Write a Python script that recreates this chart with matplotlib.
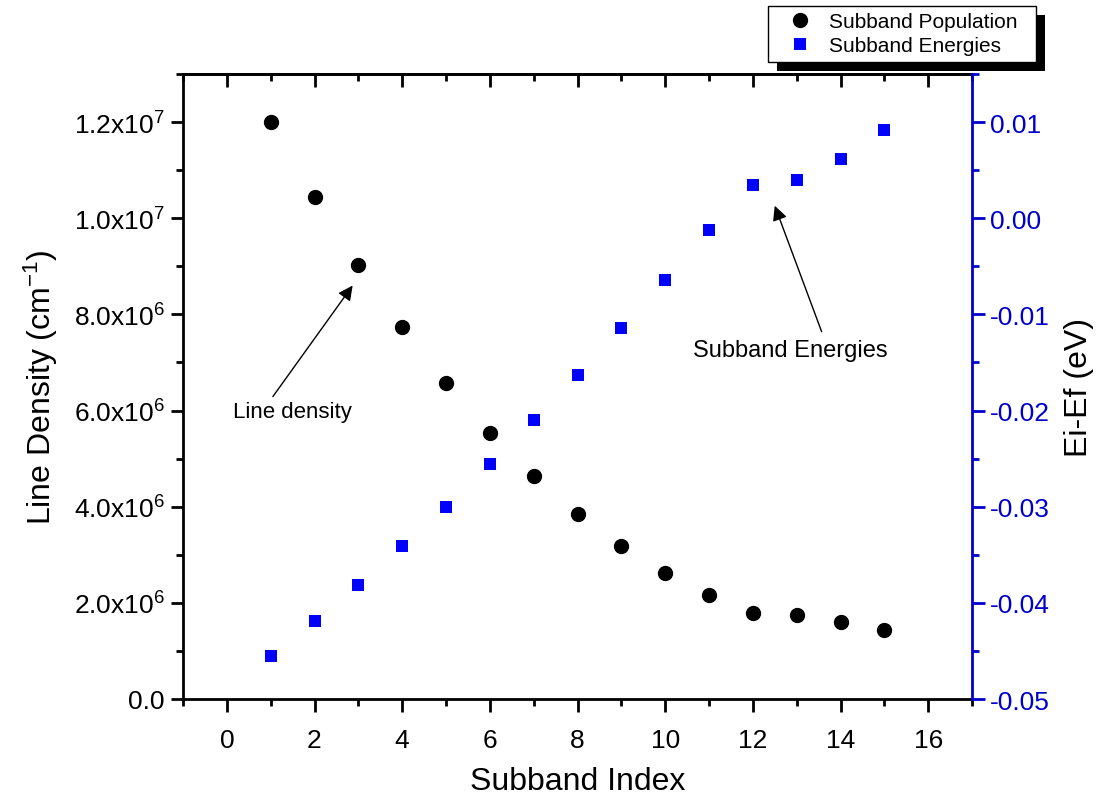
import numpy as np
import matplotlib
import matplotlib.pyplot as plt
from matplotlib.ticker import MultipleLocator, FuncFormatter
from matplotlib.patches import Rectangle

plt.rcParams['font.family'] = ['Liberation Sans', 'DejaVu Sans']
plt.rcParams['mathtext.fontset'] = 'custom'
plt.rcParams['mathtext.rm'] = 'Liberation Sans'
plt.rcParams['mathtext.default'] = 'regular'

# subband data
index = [1, 2, 3, 4, 5, 6, 7, 8, 9, 10, 11, 12, 13, 14, 15]
density = [12.0e6, 10.44e6, 9.03e6, 7.73e6, 6.57e6, 5.54e6, 4.64e6, 3.85e6,
           3.19e6, 2.63e6, 2.16e6, 1.78e6, 1.75e6, 1.61e6, 1.43e6]
energies = [-0.0455, -0.0419, -0.0381, -0.0341, -0.0300, -0.0256, -0.0210, -0.0163,
            -0.0114, -0.0064, -0.0012, 0.0035, 0.0040, 0.0062, 0.0092]

blue = '#0000cc'

fig = plt.figure(figsize=(11.04, 8.03), dpi=100)
ax = fig.add_axes([183/1104, 103/803, 789/1104, 625/803])
ax2 = ax.twinx()

l1, = ax.plot(index, density, 'o', color='black', ms=10, label='Subband Population')
l2, = ax2.plot(index, energies, 's', color='#0000ff', ms=8.6, mew=0, label='Subband Energies')

ax.set_xlim(-1, 17)
ax.set_ylim(0, 1.3e7)
ax2.set_ylim(-0.05, 0.015)

def sci_fmt(v, pos):
    if abs(v) < 1:
        return '0.0'
    if v < 0:
        return ''
    e = int(np.floor(np.log10(v) + 1e-9))
    return r'%.1fx10$^{%d}$' % (v / 10**e, e)

ax.xaxis.set_major_locator(MultipleLocator(2))
ax.xaxis.set_minor_locator(MultipleLocator(1))
ax.yaxis.set_major_locator(MultipleLocator(2e6))
ax.yaxis.set_minor_locator(MultipleLocator(1e6))
ax.yaxis.set_major_formatter(FuncFormatter(sci_fmt))
ax2.yaxis.set_major_locator(MultipleLocator(0.01))
ax2.yaxis.set_minor_locator(MultipleLocator(0.005))
ax2.yaxis.set_major_formatter(FuncFormatter(lambda v, p: '%.2f' % v if abs(v) > 1e-9 else '0.00'))

ax.tick_params(axis='x', which='both', bottom=True, top=False, labelsize=19, width=2)
ax.tick_params(axis='x', which='major', direction='out', length=9, pad=12)
ax.tick_params(axis='x', which='minor', direction='out', length=5)
ax.tick_params(axis='y', which='both', left=True, right=False, labelsize=19, width=2)
ax.tick_params(axis='y', which='major', direction='out', length=9, pad=4)
ax.tick_params(axis='y', which='minor', direction='out', length=5)

# top axis ticks point inward
sec = ax.secondary_xaxis('top')
sec.xaxis.set_major_locator(MultipleLocator(2))
sec.xaxis.set_minor_locator(MultipleLocator(1))
sec.tick_params(which='major', direction='in', length=9, width=2, labeltop=False)
sec.tick_params(which='minor', direction='in', length=5, width=2)
sec.spines['top'].set_linewidth(2)

ax2.tick_params(axis='y', which='both', colors=blue, labelsize=19, width=2)
ax2.tick_params(axis='y', which='major', length=9, pad=4)
ax2.tick_params(axis='y', which='minor', length=5)

for s in ['left', 'bottom', 'top']:
    ax.spines[s].set_linewidth(2)
ax.spines['right'].set_visible(False)
ax2.spines['right'].set_color(blue)
ax2.spines['right'].set_linewidth(2)
for s in ['left', 'bottom', 'top']:
    ax2.spines[s].set_visible(False)

ax.set_xlabel('Subband Index', fontsize=23, labelpad=10)
ax.set_ylabel('Line Density (cm$^{-1}$)', fontsize=23, labelpad=10)
ax2.set_ylabel('Ei-Ef (eV)', fontsize=23, labelpad=10)

arrow = dict(arrowstyle='-|>', color='black', lw=1, mutation_scale=22, shrinkA=0, shrinkB=0)
ax.annotate('', xy=(2.87, 8.6e6), xytext=(1.05, 6.29e6), arrowprops=arrow)
ax.text(0.14, 5.98e6, 'Line density', fontsize=16, ha='left', va='center')
ax2.annotate('', xy=(12.5, 0.0013), xytext=(13.57, -0.0118), arrowprops=arrow)
ax2.text(12.86, -0.0137, 'Subband Energies', fontsize=17, ha='center', va='center')

leg = fig.legend([l1, l2], ['Subband Population  ', 'Subband Energies  '],
                 loc='upper left', bbox_to_anchor=(768/1104, 1 - 7/803),
                 fontsize=15, frameon=True, fancybox=False, framealpha=1,
                 edgecolor='black', borderaxespad=0, borderpad=0.3,
                 labelspacing=0.25, handletextpad=0.15, handlelength=2.5)
leg.get_frame().set_linewidth(1)

# black drop shadow behind the legend box
fig.canvas.draw()
bb = leg.get_window_extent()
shadow = Rectangle((bb.x0 + 9, bb.y0 - 9), bb.width, bb.height, transform=None,
                   facecolor='black', edgecolor='none', zorder=leg.get_zorder() - 1)
fig.add_artist(shadow)

fig.savefig('out.png', dpi=100)
